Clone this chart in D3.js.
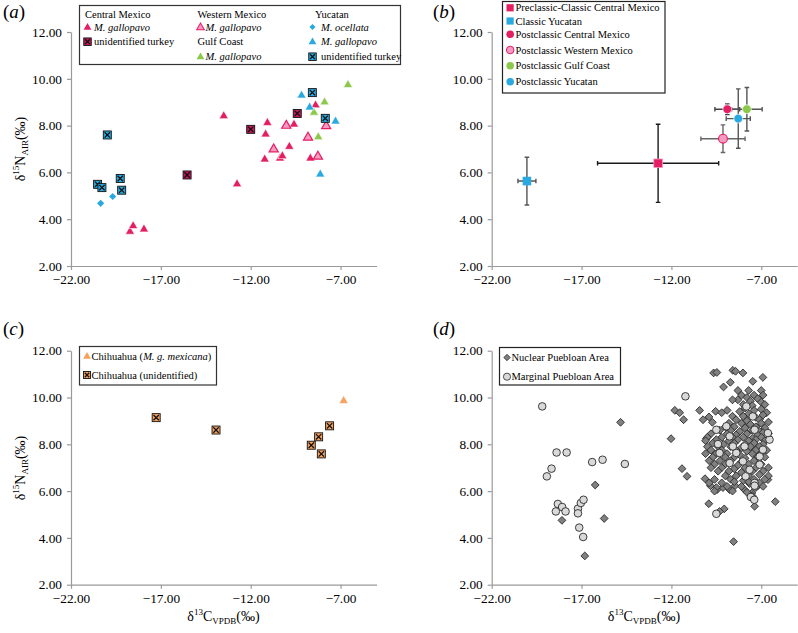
<!DOCTYPE html>
<html><head><meta charset="utf-8">
<script src="https://cdn.jsdelivr.net/npm/d3@7"></script>
<style>
body{margin:0;background:#fff}
svg{display:block}
text{font-family:"Liberation Serif","Times New Roman",serif;fill:#000}
</style>
</head><body>
<svg id="chart" width="798" height="633"></svg>
<script>
// ---------- DATA ----------
const xTicks = [-22, -17, -12, -7];
const yTicks = [2, 4, 6, 8, 10, 12];
const xDomain = [-22, -5];
const yDomain = [2, 12];

// Panel (a)
const aCentralGallopavo = [[-18.72,3.47],[-18.54,3.71],[-17.94,3.57],[-12.76,5.50],[-13.5,8.41],[-11.07,8.12],[-11.17,7.63],[-9.59,8.05],[-8.39,8.87],[-9.85,7.10],[-11.22,6.56],[-10.37,6.60],[-10.24,6.70],[-8.68,6.60]];
const aCentralUnident = [[-15.54,5.89],[-12.0,7.84],[-9.41,8.52]];
const aWesternGallopavo = [[-10.02,8.0],[-7.80,7.98],[-8.81,7.49],[-10.72,6.99],[-8.26,6.68]];
const aGulfGallopavo = [[-6.59,9.74],[-7.89,9.0],[-8.48,8.56],[-8.24,7.51]];
const aYucOcellata = [[-20.35,4.68],[-19.68,4.97]];
const aYucGallopavo = [[-9.17,9.29],[-8.72,8.78],[-7.28,8.18],[-8.13,5.92]];
const aYucUnident = [[-19.98,7.60],[-20.52,5.49],[-20.28,5.35],[-19.26,5.74],[-19.18,5.24],[-8.57,9.41],[-7.85,8.31]];

// Panel (b): means with error bars
const bNames = ["Preclassic-Classic Central Mexico","Classic Yucatan","Postclassic Central Mexico","Postclassic Western Mexico","Postclassic Gulf Coast","Postclassic Yucatan"];
const bX = [-12.74, -20.04, -8.89, -9.13, -7.80, -8.28];
const bY = [6.39, 5.63, 8.70, 7.44, 8.70, 8.30];
const bXErr = [3.37, 0.50, 0.69, 1.23, 0.85, 0.67];
const bYErr = [1.67, 1.02, 0.23, 0.59, 0.93, 1.27];

// Panel (c)
const cMexicana = [[-6.83,9.86]];
const cUnident = [[-17.26,9.14],[-13.93,8.61],[-8.63,7.96],[-8.22,8.32],[-8.07,7.59],[-7.61,8.79]];

// Panel (d)
const dNuclear = [[-14.83,8.94],[-16.24,6.26],[-18.09,4.75],[-15.74,4.83],[-16.82,3.23],[-8.54,3.84],[-6.22,5.55],[-12.02,8.24],[-11.81,9.45],[-11.54,9.35],[-11.32,9.05],[-11.41,6.96],[-11.13,6.63],[-10.43,9.45],[-10.24,9.05],[-9.91,9.17],[-9.72,8.94],[-9.54,9.41],[-10.06,8.24],[-9.65,11.05],[-9.47,11.07],[-9.1,10.45],[-8.58,11.16],[-8.43,11.12],[-8.02,11.05],[-6.91,10.86],[-7.47,10.69],[-8.72,10.65],[-10.13,6.53],[-9.92,5.46],[-9.83,6.23],[-9.46,6.06],[-9.13,6.15],[-8.76,6.06],[-8.46,6.23],[-7.93,6.06],[-7.65,6.32],[-7.19,6.23],[-7.37,5.35],[-9.06,5.24],[-9.32,5.13],[-7.52,5.92],[-6.63,6.49],
[-8.3,10.3],[-7.7,10.3],[-7.0,10.3],[-8.1,10.1],[-7.4,10.1],[-7.8,10.0],[-6.9,10.1],
[-8.3,9.9],[-7.6,9.85],[-7.2,9.95],[-7.0,9.8],[-8.6,9.9],[-8.0,9.7],[-7.5,9.65],[-7.9,9.55],[-6.8,9.7],
[-8.9,9.45],[-8.2,9.4],[-7.4,9.45],[-7.0,9.5],[-9.2,9.35],[-7.7,9.3],[-6.7,9.35],
[-8.6,9.2],[-8.0,9.2],[-7.3,9.15],[-6.9,9.25],[-8.4,9.05],[-7.8,9.0],[-7.1,9.05],
[-8.8,8.9],[-8.1,8.9],[-7.6,8.85],[-7.0,8.9],[-6.6,8.95],[-9.0,8.75],[-8.5,8.75],[-7.9,8.7],[-7.3,8.75],[-6.8,8.7],
[-9.3,8.6],[-8.7,8.6],[-8.2,8.55],[-7.5,8.6],[-7.1,8.55],[-6.9,8.5],[-9.8,8.45],[-8.9,8.45],[-8.4,8.4],[-7.8,8.45],[-7.2,8.4],[-6.6,8.45],
[-10.0,8.3],[-9.2,8.3],[-8.6,8.3],[-8.0,8.3],[-7.5,8.25],[-7.0,8.3],[-10.1,8.15],[-9.5,8.2],[-8.8,8.15],[-8.3,8.2],[-7.7,8.15],[-7.3,8.2],[-6.8,8.15],
[-9.7,8.05],[-9.1,8.0],[-8.5,8.05],[-7.9,8.0],[-7.4,8.05],[-6.9,8.0],[-10.0,7.9],[-9.4,7.9],[-8.7,7.9],[-8.1,7.85],[-7.6,7.9],[-7.1,7.9],
[-9.8,7.75],[-9.2,7.75],[-8.4,7.75],[-7.8,7.7],[-7.3,7.75],[-6.7,7.75],[-10.1,7.6],[-9.5,7.6],[-8.9,7.6],[-8.2,7.55],[-7.5,7.6],[-7.0,7.6],
[-9.7,7.45],[-9.0,7.45],[-8.5,7.45],[-7.9,7.4],[-7.2,7.45],[-6.8,7.45],[-9.9,7.3],[-9.3,7.3],[-8.7,7.3],[-8.1,7.25],[-7.4,7.3],
[-9.6,7.15],[-9.0,7.15],[-8.3,7.1],[-7.7,7.15],[-7.0,7.15],[-9.8,7.0],[-9.2,7.0],[-8.5,6.95],[-7.9,7.0],[-7.3,7.0],[-6.6,7.0],
[-9.4,6.85],[-8.8,6.85],[-8.1,6.8],[-7.5,6.85],[-6.9,6.85],[-9.0,6.65],[-8.4,6.65],[-7.7,6.65],[-7.1,6.7],[-6.6,6.65],
[-9.6,6.5],[-8.7,6.5],[-8.0,6.45],[-7.4,6.5],[-6.8,6.5],[-9.9,6.35],[-9.2,6.35],[-8.5,6.4],[-7.7,6.4],[-7.1,6.35],
[-9.5,6.15],[-8.9,6.2],[-8.1,6.2],[-7.3,6.15],[-6.9,6.2],[-9.6,6.0],[-8.6,6.0],[-7.8,5.95],[-7.5,5.8]];
const dMarginal = [[-19.19,9.62],[-11.22,10.05],[-18.39,7.65],[-17.83,7.65],[-18.67,6.96],[-18.93,6.63],[-16.41,7.24],[-15.83,7.34],[-14.59,7.16],[-18.32,5.45],[-18.08,5.32],[-18.43,5.13],[-17.89,5.13],[-17.2,5.25],[-17.2,5.05],[-17.04,5.49],[-16.89,5.63],[-17.13,4.44],[-16.91,4.04],
[-8.94,8.77],[-9.41,8.01],[-8.76,8.34],[-7.93,7.91],[-7.47,9.19],[-6.54,8.2],[-6.63,8.48],[-7.09,7.48],[-7.09,7.13],[-8.39,7.63],[-9.32,7.63],[-8.02,7.27],[-7.65,6.91],[-7.87,6.63],[-7.37,6.35],[-8.76,7.2],[-8.58,7.91],[-7.37,8.62],[-7.83,9.62],[-9.5,8.62],[-6.91,7.77],[-9.5,5.03],[-7.58,5.75],[-7.39,5.63],[-7.37,6.23]];

// ---------- STYLE ----------
const CRIMSON = "#E31E63", CRIMSON_DARK = "#C2185B", PINK = "#F59AC3", GREEN = "#8CC84B", BLUE = "#29A9E0", ORANGE = "#F6A25E";
const AXIS = "#9a9a9a";
const LEG_FS = 10.5;

const svg = d3.select("#chart");
const fmt = d3.format(".2f");

function panel(left, top) {
  const x = d3.scaleLinear().domain(xDomain).range([left, left + 305.5]);
  const y = d3.scaleLinear().domain(yDomain).range([top + 234, top]);
  const gx = svg.append("g").attr("transform", `translate(0,${top + 234})`)
    .call(d3.axisBottom(x).tickValues(xTicks).tickFormat(fmt).tickSize(4).tickSizeOuter(0).tickPadding(5));
  const gy = svg.append("g").attr("transform", `translate(${left},0)`)
    .call(d3.axisLeft(y).tickValues(yTicks).tickFormat(fmt).tickSize(4).tickSizeOuter(0).tickPadding(5));
  [gx, gy].forEach(g => {
    g.selectAll("path,line").attr("stroke", AXIS).attr("stroke-width", 1.2);
    g.selectAll("text").attr("font-size", 13.3).attr("font-family", '"Liberation Serif",serif').attr("fill", "#000");
  });
  return { x, y, g: svg.append("g") };
}

const triPath = d3.symbol(d3.symbolTriangle, 36)();
const diaPath = "M0,-3.6L3.6,0L0,3.6L-3.6,0Z";

function triangles(p, pts, fill, stroke, sw) {
  p.g.selectAll(null).data(pts).join("path").attr("d", triPath)
    .attr("transform", d => `translate(${p.x(d[0])},${p.y(d[1])})`)
    .attr("fill", fill).attr("stroke", stroke).attr("stroke-width", sw);
}
function diamonds(p, pts, fill, stroke, path) {
  p.g.selectAll(null).data(pts).join("path").attr("d", path || diaPath)
    .attr("transform", d => `translate(${p.x(d[0])},${p.y(d[1])})`)
    .attr("fill", fill).attr("stroke", stroke).attr("stroke-width", stroke === "none" ? 0 : 0.9);
}
function xsq(g, cx, cy, fill, s) {
  const h = s / 2;
  g.append("rect").attr("x", cx - h).attr("y", cy - h).attr("width", s).attr("height", s)
    .attr("fill", fill).attr("stroke", "#111").attr("stroke-width", 0.9);
  const k = h - 1.3;
  g.append("path").attr("d", `M${cx - k},${cy - k}L${cx + k},${cy + k}M${cx + k},${cy - k}L${cx - k},${cy + k}`)
    .attr("stroke", "#111").attr("stroke-width", 1.3);
}
function crossSquares(p, pts, fill) {
  pts.forEach(d => xsq(p.g, p.x(d[0]), p.y(d[1]), fill, 8));
}
function letter(x, y, l) {
  const t = svg.append("text").attr("x", x).attr("y", y).attr("font-size", 19);
  t.append("tspan").text("(");
  t.append("tspan").attr("font-style", "italic").text(l);
  t.append("tspan").text(")");
}
function yLabel(cx, cy) {
  const t = svg.append("text").attr("transform", `translate(${cx},${cy}) rotate(-90)`)
    .attr("text-anchor", "middle").attr("font-size", 14);
  t.append("tspan").text("δ");
  t.append("tspan").attr("font-size", 9).attr("dy", -6).text("15");
  t.append("tspan").attr("dy", 6).text("N");
  t.append("tspan").attr("font-size", 9).attr("dy", 3).text("AIR");
  t.append("tspan").attr("dy", -3).text("(‰)");
}
function xLabel(cx, y) {
  const t = svg.append("text").attr("x", cx).attr("y", y).attr("text-anchor", "middle").attr("font-size", 14);
  t.append("tspan").text("δ");
  t.append("tspan").attr("font-size", 9).attr("dy", -6).text("13");
  t.append("tspan").attr("dy", 6).text("C");
  t.append("tspan").attr("font-size", 9).attr("dy", 3).text("VPDB");
  t.append("tspan").attr("dy", -3).text("(‰)");
}
function legText(g, x, y, parts) {
  const t = g.append("text").attr("x", x).attr("y", y).attr("font-size", LEG_FS).attr("dy", "0.35em");
  parts.forEach(pt => {
    const s = t.append("tspan").text(pt[0]);
    if (pt[1]) s.attr("font-style", "italic");
  });
}

// ---------- PANEL (a) ----------
const A = panel(71, 32);
triangles(A, aCentralGallopavo, CRIMSON, "#fff", 0.6);
triangles(A, aWesternGallopavo, PINK, CRIMSON, 1.2);
triangles(A, aGulfGallopavo, GREEN, "#fff", 0.6);
triangles(A, aYucGallopavo, BLUE, "#fff", 0.6);
diamonds(A, aYucOcellata, BLUE, "none");
crossSquares(A, aCentralUnident, CRIMSON_DARK);
crossSquares(A, aYucUnident, BLUE);
letter(3, 18, "a");
yLabel(25, 149);
{
  const g = svg.append("g");
  g.append("rect").attr("x", 79.5).attr("y", 5.5).attr("width", 321).attr("height", 59)
    .attr("fill", "#fff").attr("stroke", "#333").attr("stroke-width", 1.2);
  legText(g, 85, 14, [["Central Mexico"]]);
  g.append("path").attr("d", triPath).attr("transform", "translate(87.5,27.5) scale(0.85)").attr("fill", CRIMSON);
  legText(g, 94, 27, [["M. gallopavo", true]]);
  xsq(g, 87.5, 41.7, CRIMSON_DARK, 7.5);
  legText(g, 94, 41.5, [["unidentified turkey"]]);
  legText(g, 197.5, 14, [["Western Mexico"]]);
  g.append("path").attr("d", triPath).attr("transform", "translate(200.5,27.5) scale(0.85)").attr("fill", PINK).attr("stroke", CRIMSON).attr("stroke-width", 1.2);
  legText(g, 205.5, 27, [["M. gallopavo", true]]);
  legText(g, 197.5, 41.5, [["Gulf Coast"]]);
  g.append("path").attr("d", triPath).attr("transform", "translate(200.5,57) scale(0.85)").attr("fill", GREEN);
  legText(g, 205.5, 56.5, [["M. gallopavo", true]]);
  legText(g, 315, 14, [["Yucatan"]]);
  g.append("path").attr("d", diaPath).attr("transform", "translate(312.5,27) scale(0.85)").attr("fill", BLUE);
  legText(g, 321, 27, [["M. ocellata", true]]);
  g.append("path").attr("d", triPath).attr("transform", "translate(312.5,42) scale(0.85)").attr("fill", BLUE);
  legText(g, 321, 41.5, [["M. gallopavo", true]]);
  xsq(g, 312.5, 56.7, BLUE, 7.5);
  legText(g, 321, 56.5, [["unidentified turkey"]]);
}

// ---------- PANEL (b) ----------
const B = panel(491.7, 32);
const bFill = [CRIMSON, BLUE, CRIMSON, PINK, GREEN, BLUE];
const bStroke = ["none", "none", "#fff", CRIMSON, "#fff", "#fff"];
const bBar = ["#1a1a1a", "#555", "#444", "#666", "#555", "#555"];
const bShape = ["sq", "sq", "c", "c", "c", "c"];
const bIdx = d3.range(bNames.length);
const drawOrder = [0, 1, 3, 5, 2, 4];
drawOrder.forEach(i => {
  const cx = B.x(bX[i]), cy = B.y(bY[i]);
  const x0 = B.x(bX[i] - bXErr[i]), x1 = B.x(bX[i] + bXErr[i]);
  const y0 = B.y(bY[i] - bYErr[i]), y1 = B.y(bY[i] + bYErr[i]);
  const c = 2.3;
  B.g.append("path").attr("d",
    `M${x0},${cy}H${x1}M${x0},${cy - c}V${cy + c}M${x1},${cy - c}V${cy + c}` +
    `M${cx},${y0}V${y1}M${cx - c},${y0}H${cx + c}M${cx - c},${y1}H${cx + c}`)
    .attr("stroke", bBar[i]).attr("stroke-width", 1.4).attr("fill", "none");
});
bIdx.forEach(i => {
  const cx = B.x(bX[i]), cy = B.y(bY[i]);
  if (bShape[i] === "sq") {
    B.g.append("rect").attr("x", cx - 4.3).attr("y", cy - 4.3).attr("width", 8.6).attr("height", 8.6)
      .attr("fill", bFill[i]).attr("stroke", i === 0 ? PINK : "none").attr("stroke-width", 0.8);
  } else {
    B.g.append("circle").attr("cx", cx).attr("cy", cy).attr("r", 4.4)
      .attr("fill", bFill[i]).attr("stroke", bStroke[i]).attr("stroke-width", bStroke[i] === CRIMSON ? 1.1 : 0.7);
  }
});
letter(433, 18, "b");
{
  const g = svg.append("g");
  g.append("rect").attr("x", 502.5).attr("y", 1.5).attr("width", 162.5).attr("height", 91.5)
    .attr("fill", "#fff").attr("stroke", "#222").attr("stroke-width", 1.2);
  const ly = [7.8, 21, 34.3, 50, 65.7, 81.7];
  bIdx.forEach(i => {
    if (bShape[i] === "sq") {
      g.append("rect").attr("x", 506.5).attr("y", ly[i] - 3.6).attr("width", 7.2).attr("height", 7.2).attr("fill", bFill[i]);
    } else {
      g.append("circle").attr("cx", 510.2).attr("cy", ly[i]).attr("r", 3.8).attr("fill", bFill[i])
        .attr("stroke", bStroke[i] === CRIMSON ? CRIMSON : "none").attr("stroke-width", 1);
    }
    legText(g, 515.5, ly[i], [[bNames[i]]]);
  });
}

// ---------- PANEL (c) ----------
const C = panel(71, 350.7);
triangles(C, cMexicana, ORANGE, "#fff", 0.6);
crossSquares(C, cUnident, ORANGE);
letter(3, 335, "c");
yLabel(25, 468);
xLabel(223.5, 621);
{
  const g = svg.append("g");
  g.append("rect").attr("x", 79.5).attr("y", 346.5).attr("width", 137).attr("height", 38.5)
    .attr("fill", "#fff").attr("stroke", "#333").attr("stroke-width", 1.2);
  g.append("path").attr("d", triPath).attr("transform", "translate(87,356.5) scale(0.85)").attr("fill", ORANGE);
  legText(g, 91.5, 356, [["Chihuahua ("], ["M. g. mexicana", true], [")"]]);
  xsq(g, 87, 375, ORANGE, 7);
  legText(g, 91.5, 375, [["Chihuahua (unidentified)"]]);
}

// ---------- PANEL (d) ----------
const D = panel(491.7, 350.7);
const dDia = "M0,-3.9L3.9,0L0,3.9L-3.9,0Z";
diamonds(D, dNuclear, "#808080", "#2a2a2a", dDia);
D.g.selectAll(null).data(dMarginal).join("circle")
  .attr("cx", d => D.x(d[0])).attr("cy", d => D.y(d[1])).attr("r", 3.8)
  .attr("fill", "#d9d9d9").attr("stroke", "#2a2a2a").attr("stroke-width", 0.9);
letter(433, 335, "d");
xLabel(644, 621);
{
  const g = svg.append("g");
  g.append("rect").attr("x", 499.5).attr("y", 347.5).attr("width", 121).attr("height", 37.5)
    .attr("fill", "#fff").attr("stroke", "#222").attr("stroke-width", 1.2);
  g.append("path").attr("d", "M0,-3.2L3.2,0L0,3.2L-3.2,0Z").attr("transform", "translate(507,357.5)")
    .attr("fill", "#808080").attr("stroke", "#2a2a2a").attr("stroke-width", 0.8);
  legText(g, 511.5, 357.3, [["Nuclear Puebloan Area"]]);
  g.append("circle").attr("cx", 507).attr("cy", 376.7).attr("r", 3.6)
    .attr("fill", "#d9d9d9").attr("stroke", "#2a2a2a").attr("stroke-width", 0.8);
  legText(g, 511.5, 376.7, [["Marginal Puebloan Area"]]);
}
</script>
</body></html>
